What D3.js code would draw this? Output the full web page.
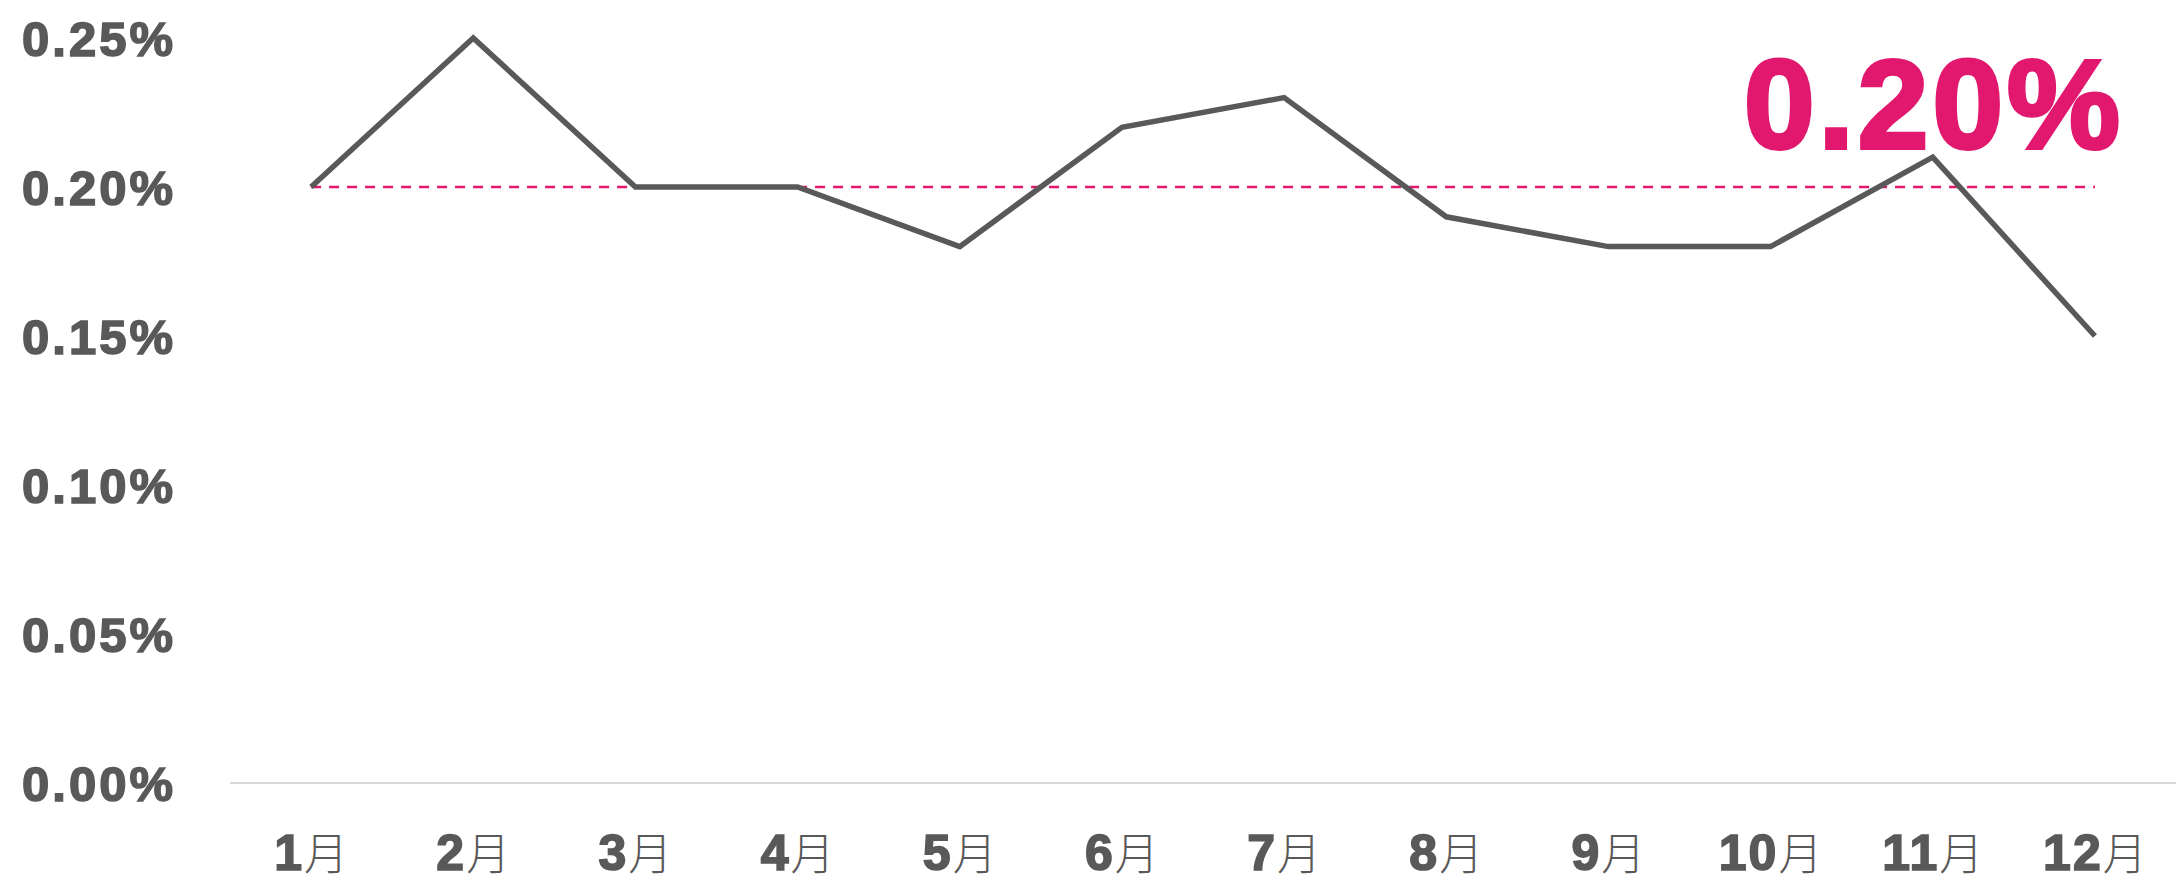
<!DOCTYPE html>
<html>
<head>
<meta charset="utf-8">
<script src="https://cdn.jsdelivr.net/npm/d3@7"></script>
<style>
  html, body { margin: 0; padding: 0; background: #fff; }
  svg { display: block; }
</style>
</head>
<body>
<div id="chart"></div>
<script>
// datos del grafico
const months = ['1', '2', '3', '4', '5', '6', '7', '8', '9', '10', '11', '12'];
const rates = [0.20, 0.25, 0.20, 0.20, 0.18, 0.22, 0.23, 0.19, 0.18, 0.18, 0.21, 0.15];
const yTicks = [0, 0.05, 0.10, 0.15, 0.20, 0.25];
const average = 0.20;
const averageLabel = '0.20%';

const W = 2176, H = 882;
const grey = '#595959';
const pink = '#e2186f';
const numFont = '"Liberation Sans", Arial, sans-serif';

const svg = d3.select('#chart').append('svg')
  .attr('width', W)
  .attr('height', H);

const x = d3.scaleBand().domain(months).range([230, W]);
const y = d3.scaleLinear().domain([0, 0.25]).range([783, 38]);
const cx = d => x(d) + x.bandwidth() / 2;

// Eje X (linea base)
svg.append('line')
  .attr('x1', x.range()[0])
  .attr('x2', x.range()[1])
  .attr('y1', y(0))
  .attr('y2', y(0))
  .attr('stroke', '#d9d9d9')
  .attr('stroke-width', 2);

// Etiquetas eje Y
const yAxis = svg.append('g')
  .attr('transform', 'translate(176,0)')
  .call(d3.axisLeft(y).tickValues(yTicks).tickSize(0).tickPadding(0)
    .tickFormat(d => d.toFixed(2) + '%'));
yAxis.select('.domain').remove();
yAxis.selectAll('text')
  .attr('fill', grey)
  .attr('stroke', grey)
  .attr('stroke-width', 1.6)
  .attr('font-family', numFont)
  .attr('font-weight', 'bold')
  .attr('font-size', '49px')
  .attr('letter-spacing', '3px')
  .attr('dy', '0.36em');

// Etiquetas eje X
const xAxis = svg.append('g')
  .attr('transform', `translate(0,${y(0)})`)
  .call(d3.axisBottom(x).tickSize(0).tickPadding(0).tickFormat(''));
xAxis.select('.domain').remove();
xAxis.selectAll('.tick text').remove();
xAxis.selectAll('.tick').append('text')
  .attr('y', 87)
  .attr('text-anchor', 'middle')
  .attr('fill', grey)
  .each(function(d) {
    const t = d3.select(this);
    t.append('tspan')
      .attr('font-family', numFont)
      .attr('font-weight', 'bold')
      .attr('font-size', '50px')
      .attr('stroke', grey)
      .attr('stroke-width', 1.6)
      .attr('letter-spacing', '2px')
      .text(d);
    t.append('tspan')
      .attr('font-family', '"Noto Sans CJK SC", sans-serif')
      .attr('font-weight', 300)
      .attr('font-size', '44px')
      .text('月');
  });

// Linea de promedio
svg.append('line')
  .attr('x1', cx(months[0]))
  .attr('x2', cx(months[months.length - 1]))
  .attr('y1', y(average))
  .attr('y2', y(average))
  .attr('stroke', pink)
  .attr('stroke-width', 2.5)
  .attr('stroke-dasharray', '10,8');

// Serie
const line = d3.line()
  .x((d, i) => cx(months[i]))
  .y(d => y(d));

svg.append('path')
  .datum(rates)
  .attr('d', line)
  .attr('fill', 'none')
  .attr('stroke', grey)
  .attr('stroke-width', 5.5)
  .attr('stroke-linejoin', 'miter');

// Etiqueta grande del promedio
svg.append('text')
  .attr('x', 2124)
  .attr('y', 148)
  .attr('text-anchor', 'end')
  .attr('fill', pink)
  .attr('stroke', pink)
  .attr('stroke-width', 4)
  .attr('font-family', numFont)
  .attr('font-weight', 'bold')
  .attr('font-size', '127px')
  .attr('letter-spacing', '4px')
  .text(averageLabel);
</script>
</body>
</html>
